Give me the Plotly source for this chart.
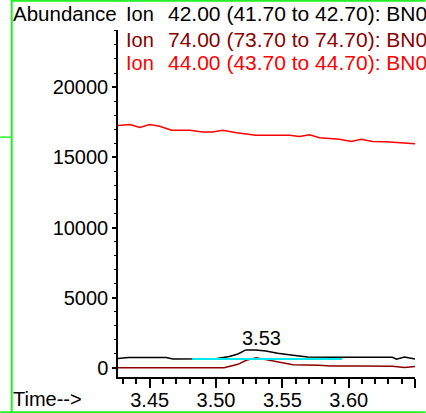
import plotly.graph_objects as go

# ---------------- data ----------------
ion44_times = [3.426, 3.435, 3.4425, 3.450, 3.4575, 3.4665, 3.480, 3.490, 3.4975, 3.505,
               3.5155, 3.530, 3.5555, 3.563, 3.5705, 3.578, 3.593, 3.602, 3.6095, 3.618,
               3.628, 3.636, 3.642, 3.650]
ion44_values = [17270, 17340, 17120, 17340, 17210, 16930, 16930, 16810, 16810, 16930,
                16740, 16570, 16570, 16480, 16600, 16390, 16290, 16120, 16290, 16120,
                16100, 16030, 16030, 15960]

ion42_times = [3.426, 3.434, 3.445, 3.4625, 3.4675, 3.485, 3.500, 3.510, 3.5165, 3.5225,
               3.530, 3.5375, 3.5465, 3.558, 3.569, 3.590, 3.610, 3.633, 3.636, 3.642, 3.650]
ion42_values = [670, 745, 750, 745, 645, 645, 660, 820, 1000, 1290,
                1290, 1210, 1050, 910, 775, 770, 770, 765, 620, 780, 645]

ion74_times = [3.426, 3.450, 3.480, 3.506, 3.5165, 3.5228, 3.5303, 3.540, 3.548, 3.558,
               3.578, 3.586, 3.610, 3.633, 3.642, 3.650]
ion74_values = [10, 10, 10, 20, 260, 550, 730, 560, 390, 240,
                200, 140, 140, 130, 30, 110]

baseline_times = [3.482, 3.595]
baseline_values = [645, 645]

peak_time = 3.534
peak_height = 1290
peak_label = "3.53"

x_tickvals = [3.45, 3.50, 3.55, 3.60, 3.65]
x_ticktext = ["3.45", "3.50", "3.55", "3.60", ""]
y_tickvals = [0, 5000, 10000, 15000, 20000]
y_ticktext = ["0", "5000", "10000", "15000", "20000"]

legend_ions = ["42.00 (41.70 to 42.70): BN0", "74.00 (73.70 to 74.70): BN0",
               "44.00 (43.70 to 44.70): BN0"]

# ---------------- layout geometry ----------------
W, H = 426, 413
L, R, T, B = 118, 415.5, 30, 376.7
PW, PH = R - L, B - T


def px(x):
    return (x - L) / PW


def py(y):
    return (B - y) / PH


FONT = "Liberation Sans, Arial, sans-serif"
BLACK = "#000000"
DARKRED = "#8B0000"
RED = "#FF0000"
CYAN = "#00E8F0"
GREEN = "#22F022"

fig = go.Figure()
fig.add_trace(go.Scatter(x=ion44_times, y=ion44_values, mode="lines",
                         line=dict(color=RED, width=1.5), hoverinfo="skip"))
fig.add_trace(go.Scatter(x=ion42_times, y=ion42_values, mode="lines",
                         line=dict(color=BLACK, width=1.5), hoverinfo="skip"))
fig.add_trace(go.Scatter(x=ion74_times, y=ion74_values, mode="lines",
                         line=dict(color=DARKRED, width=1.5), hoverinfo="skip"))
fig.add_trace(go.Scatter(x=baseline_times, y=baseline_values, mode="lines",
                         line=dict(color=CYAN, width=2), hoverinfo="skip"))

annotations = [
    dict(x=peak_time, y=peak_height, xref="x", yref="y", text=peak_label,
         showarrow=False, xanchor="center", yanchor="bottom", yshift=-1,
         font=dict(size=20, color=BLACK, family=FONT)),
    dict(x=px(10.5), y=py(14), xref="paper", yref="paper", text="Abundance",
         showarrow=False, xanchor="left", yanchor="middle",
         font=dict(size=20.5, color=BLACK, family=FONT)),
    dict(x=px(11), y=py(399), xref="paper", yref="paper", text="Time-->",
         showarrow=False, xanchor="left", yanchor="middle",
         font=dict(size=20, color=BLACK, family=FONT)),
]
for i, (txt, col) in enumerate(zip(legend_ions, [BLACK, DARKRED, RED])):
    yc = [14, 39.5, 62.5][i]
    annotations.append(dict(x=px(124), y=py(yc), xref="paper", yref="paper", text="Ion",
                            showarrow=False, xanchor="left", yanchor="middle",
                            font=dict(size=20, color=col, family=FONT)))
    annotations.append(dict(x=px(166), y=py(yc), xref="paper", yref="paper", text=txt,
                            showarrow=False, xanchor="left", yanchor="middle",
                            font=dict(size=21, color=col, family=FONT)))

shapes = [
    dict(type="line", xref="paper", yref="paper", x0=px(11.5), x1=px(11.5), y0=py(0), y1=py(412),
         line=dict(color=GREEN, width=2)),
    dict(type="line", xref="paper", yref="paper", x0=px(11), x1=px(426), y0=py(0.8), y1=py(0.8),
         line=dict(color=GREEN, width=2)),
    dict(type="line", xref="paper", yref="paper", x0=px(0), x1=px(426), y0=py(412), y1=py(412),
         line=dict(color=GREEN, width=2)),
    dict(type="line", xref="paper", yref="paper", x0=px(0), x1=px(11), y0=py(137), y1=py(137),
         line=dict(color=GREEN, width=1.5)),
]

fig.update_layout(
    width=W, height=H,
    margin=dict(l=L, r=W - R, t=T, b=H - B, pad=0, autoexpand=False),
    paper_bgcolor="white", plot_bgcolor="white",
    showlegend=False,
    font=dict(family=FONT, size=20, color=BLACK),
    annotations=annotations,
    shapes=shapes,
    xaxis=dict(range=[3.4261, 3.650], showgrid=False, zeroline=False, automargin=False,
               showline=True, linecolor=BLACK, linewidth=1.5,
               ticks="outside", ticklen=9, tickwidth=1.5, tickcolor=BLACK,
               ticklabelstandoff=-5,
               tickvals=x_tickvals, ticktext=x_ticktext,
               tickfont=dict(size=20, family=FONT, color=BLACK),
               minor=dict(ticks="outside", ticklen=5, tickwidth=1.5, tickcolor=BLACK,
                          dtick=0.01, tick0=3.40, showgrid=False)),
    yaxis=dict(range=[-641, 24063], showgrid=False, zeroline=False, automargin=False,
               showline=True, linecolor=BLACK, linewidth=1.5,
               ticks="outside", ticklen=4, tickwidth=1.5, tickcolor=BLACK,
               tickvals=y_tickvals, ticktext=y_ticktext,
               tickfont=dict(size=20, family=FONT, color=BLACK),
               minor=dict(ticks="outside", ticklen=2, tickwidth=1, tickcolor=BLACK,
                          dtick=1000, tick0=0, showgrid=False)),
)

fig.write_html("out.html", config={"displayModeBar": False},
               post_script="document.body.style.margin='0';document.body.style.overflow='hidden';")
